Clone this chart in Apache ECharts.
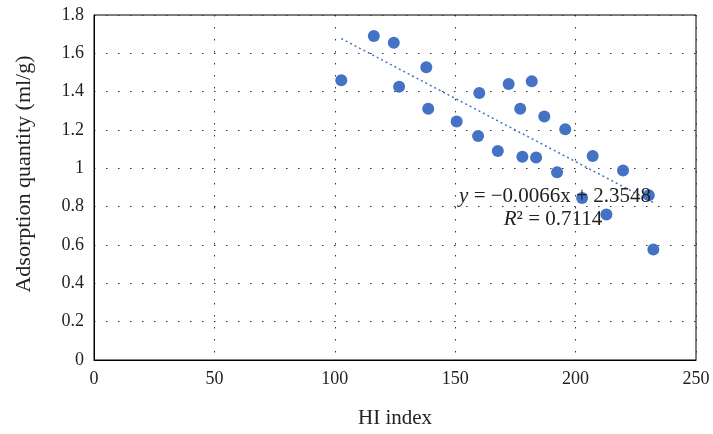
<!DOCTYPE html>
<html>
<head>
<meta charset="utf-8">
<script src="https://cdn.jsdelivr.net/npm/echarts@6/dist/echarts.min.js"></script>
<style>html,body{margin:0;padding:0;background:#fff}#c{width:713px;height:434px}</style>
</head>
<body>
<div id="c"></div>
<script>
// HI index values
const hiIndex = [102.7,116.2,124.5,138.0,126.7,138.8,150.6,160.0,159.5,172.2,181.8,177.0,187.0,195.7,167.7,177.9,183.6,192.3,207.1,219.7,202.7,230.4,212.8,232.3];
// Adsorption quantity (ml/g)
const adsorption = [1.459,1.690,1.655,1.527,1.426,1.311,1.244,1.393,1.169,1.440,1.454,1.311,1.270,1.204,1.090,1.061,1.056,0.980,1.064,0.989,0.845,0.860,0.759,0.577];
// Linear trendline coefficients shown in the chart
const slope = -0.0066;
const intercept = 2.3548;
const r2 = 0.7114;
const xTicks = [0,50,100,150,200,250];
const yTicks = [0,0.2,0.4,0.6,0.8,1,1.2,1.4,1.6,1.8];

const points = hiIndex.map((x,i)=>[x, adsorption[i]]);
const xMin = Math.min(...hiIndex), xMax = Math.max(...hiIndex);
const trend = [[xMin, slope*xMin+intercept],[xMax, slope*xMax+intercept]];

const FONT = '"Liberation Serif","DejaVu Serif",serif';
const chart = echarts.init(document.getElementById('c'));
chart.setOption({
  animation:false,
  grid:{left:94,right:17,top:15,bottom:73.5,show:true,borderColor:'#000',borderWidth:1,containLabel:false},
  xAxis:{type:'value',min:xTicks[0],max:xTicks[xTicks.length-1],interval:50,
    name:'HI index',nameLocation:'middle',nameGap:48,
    nameTextStyle:{fontFamily:FONT,fontSize:21,color:'#222'},
    axisLine:{show:true,lineStyle:{color:'#000',width:1}},
    axisTick:{show:false},
    axisLabel:{fontFamily:FONT,fontSize:18,color:'#222',margin:10,formatter:v=>String(v)},
    splitLine:{show:true,lineStyle:{color:'#333',width:1,type:[1.5,10.5]}}
  },
  yAxis:{type:'value',min:yTicks[0],max:yTicks[yTicks.length-1],interval:0.2,
    axisLine:{show:true,lineStyle:{color:'#000',width:1}},
    axisTick:{show:false},
    axisLabel:{fontFamily:FONT,fontSize:18,color:'#222',margin:10,formatter:v=>String(Math.round(v*10)/10)},
    splitLine:{show:true,lineStyle:{color:'#333',width:1,type:[1.5,10.5]}}
  },
  series:[
    {type:'line',data:trend,symbol:'none',z:2,
      lineStyle:{color:'#4472C4',width:1.5,type:[2,3]}},
    {type:'scatter',data:points,symbolSize:12,z:3,
      itemStyle:{color:'#4472C4',opacity:1}}
  ],
  graphic:[
    {type:'text',x:24,y:174,rotation:Math.PI/2,z:100,style:{
      text:'Adsorption quantity (ml/g)',
      fontFamily:FONT,fontSize:22,fill:'#222',align:'center',verticalAlign:'middle'}},
    {type:'text',x:555,y:196,z:100,style:{
      text:'{i|y} = −0.0066x + 2.3548',
      rich:{i:{fontStyle:'italic',fontFamily:FONT,fontSize:21,fill:'#222'}},
      fontFamily:FONT,fontSize:21,fill:'#222',align:'center',verticalAlign:'middle'}},
    {type:'text',x:553,y:219.5,z:100,style:{
      text:'{i|R}² = '+r2.toFixed(4),
      rich:{i:{fontStyle:'italic',fontFamily:FONT,fontSize:21,fill:'#222'}},
      fontFamily:FONT,fontSize:21,fill:'#222',align:'center',verticalAlign:'middle'}}
  ]
});
</script>
</body>
</html>
